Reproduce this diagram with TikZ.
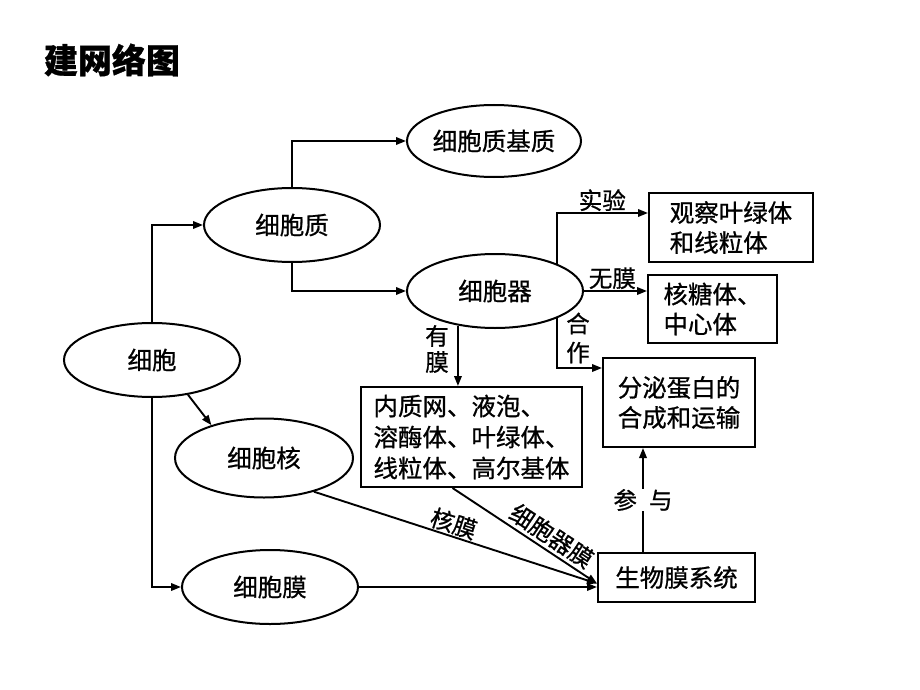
\documentclass[tikz,border=0pt]{standalone}
\usepackage{fontspec}
\setmainfont{Noto Sans CJK SC}[FakeBold=0.8]
\usetikzlibrary{shapes.geometric,arrows.meta}
\tikzset{
  oval/.style={draw, ellipse, line width=2pt, minimum width=176pt, minimum height=74pt, inner sep=0pt, font=\fontsize{24.5}{28}\selectfont},
  card/.style={draw, rectangle, line width=2pt, align=left, inner sep=0pt, font=\fontsize{24.5}{30}\selectfont},
  arr/.style={line width=1.9pt, -{Triangle[length=10pt,width=7.5pt]}},
  lbl/.style={inner sep=1pt, font=\fontsize{23.5}{26}\selectfont}
}
\begin{document}
\begin{tikzpicture}[x=1pt, y=-1pt]
  \useasboundingbox (0,0) rectangle (920,690);
  \node[font=\fontsize{34}{36}\selectfont\bfseries] (title) at (112,60) {建网络图};
  \node[oval] (xb) at (152,360) {细胞};
  \node[oval] (zz) at (292,225) {细胞质};
  \node[oval, minimum width=174pt, minimum height=72pt] (jz) at (494,141) {细胞质基质};
  \node[oval] (qi) at (495,291) {细胞器};
  \node[oval, minimum width=178pt, minimum height=79pt] (hx) at (264,458) {细胞核};
  \node[oval] (mm) at (270,587) {细胞膜};
  \node[card, minimum width=164pt, minimum height=69pt] (gc) at (731,227.5) {观察叶绿体\\和线粒体};
  \node[card, minimum width=129pt, minimum height=68pt] (hc) at (712.5,309) {核糖体、\\中心体};
  \node[card, minimum width=152pt, minimum height=89pt] (fm) at (679,402.5) {分泌蛋白的\\合成和运输};
  \node[card, minimum width=221pt, minimum height=100pt, font=\fontsize{24.5}{31}\selectfont] (nz) at (471.5,437) {内质网、液泡、\\溶酶体、叶绿体、\\线粒体、高尔基体};
  \node[card, minimum width=157pt, minimum height=49pt] (sw) at (676.5,577.5) {生物膜系统};
  \coordinate (hub) at ([yshift=-6pt]sw.west);
  \coordinate (bus) at (555,213);
  \coordinate (bus2) at (555,368);
  \draw[arr] (xb.north) |- (zz.west);
  \draw[arr] (xb.south) |- (mm.west);
  \draw[arr] (xb.-44) -- (hx.148);
  \draw[arr] (zz.north) |- (jz.west);
  \draw[arr] (zz.south) |- (qi.west);
  \draw[arr] (qi.24) |- (gc.west |- bus) node[lbl, pos=0.75, above] {实验};
  \draw[arr] (qi.east) -- (qi.east -| hc.west) node[lbl, pos=0.45, above] {无膜};
  \draw[arr] (qi.-24) |- (fm.west |- bus2);
  \node[lbl, align=center, font=\fontsize{23.5}{29}\selectfont] (hz) at (578,338) {合\\作};
  \draw[arr] (qi.223) -- (qi.223 |- nz.north);
  \node[lbl, align=center] (ym) at (437,349) {有\\膜};
  \draw[arr] (hx.-34) -- (hub) node[lbl, pos=0.48, sloped, above] {核膜};
  \draw[arr] ([xshift=-19pt]nz.south) -- (hub) node[lbl, pos=0.63, sloped, above, inner sep=3pt] {细胞器膜};
  \draw[arr] (mm.east) -- (mm.east -| sw.west);
  \draw[arr] (sw.north -| 643,0) -- (fm.south -| 643,0) node[lbl, midway, fill=white, inner sep=0pt] {参\hspace{12pt}与};
\end{tikzpicture}
\end{document}
